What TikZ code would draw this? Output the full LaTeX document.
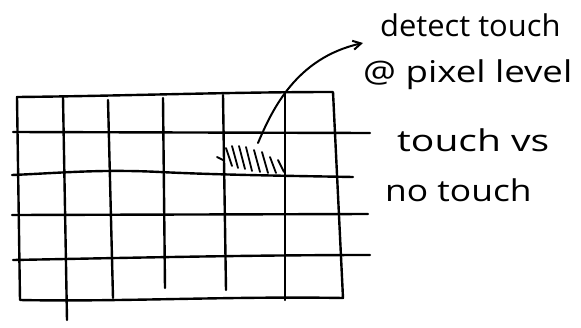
\documentclass[tikz,border=0pt]{standalone}
\usepackage{fontspec}
\setmainfont{Open Sans}
\usetikzlibrary{arrows.meta}
\begin{document}
\begin{tikzpicture}[x=1pt,y=-1pt,
  pen/.style={line width=2.4pt,line cap=round,line join=round,black},
  hatchstroke/.style={line width=1.8pt,line cap=round,black},
  label/.style={font=\fontsize{30}{34}\selectfont,inner sep=0pt,anchor=west}]
\useasboundingbox (0,0) rectangle (581,327);
% outer frame
\draw[pen] (17,97) .. controls (120,96) and (230,92) .. (333,92) -- (343,298)
  .. controls (230,296) and (120,302) .. (20,300) -- cycle;
% vertical lines
\draw[pen] (63,97) -- (67,320);
\draw[pen] (108,100) -- (113,298);
\draw[pen] (163,98) -- (165,288);
\draw[pen] (223,95) -- (226,290);
\draw[pen] (285,93) -- (285,300);
% horizontal lines
\draw[pen] (13,132) -- (370,133);
\draw[pen] (12,175) .. controls (60,173) and (100,169) .. (160,172) .. controls (220,175) and (300,176) .. (353,177);
\draw[pen] (12,215) -- (368,214);
\draw[pen] (13,260) .. controls (120,258) and (250,255) .. (370,255);
% hatching in touched pixel
\foreach \x/\ya/\yb in {217/157/160, 226/148/166, 232/146/168, 239/146/169, 246/147/171, 254/150/172, 262/152/173, 270/157/173, 278/160/172}{
  \draw[hatchstroke] (\x,\ya) -- (\x+6,\yb);
}
% text
\node[label] (t1) at (380,25) {\scalebox{1.03}[1]{detect touch}};
\node[label] (t2) at (363,75) {\scalebox{1.22}[1]{@ pixel level}};
\node[label] (t3) at (397,140) {\scalebox{1.3}[1]{touch vs}};
\node[label] (t4) at (385,190) {\scalebox{1.18}[1]{no touch}};
\coordinate (src) at (258,143);
\coordinate (tip) at (363,43);
\draw[pen,line width=2pt,-{Straight Barb[length=8pt,width=9pt]}] (src) .. controls (272,110) and (296,58) .. (tip);
\end{tikzpicture}
\end{document}
